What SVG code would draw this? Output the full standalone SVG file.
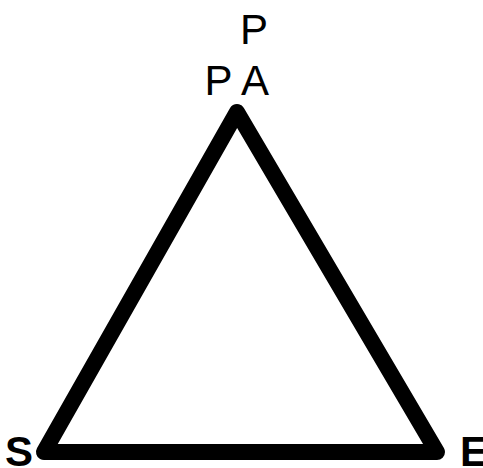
<svg xmlns="http://www.w3.org/2000/svg" width="483" height="468" viewBox="0 0 483 468">
<style>
.lbl{font-family:"Liberation Sans",Arial,sans-serif;font-size:42px;fill:#000}
.b{font-weight:bold}
.edge{fill:none;stroke:#000;stroke-width:16;stroke-linejoin:round;stroke-linecap:round}
</style>
<rect width="483" height="468" fill="#fff"/>
<g id="connectors">
<polygon class="edge" points="237,112 44,452 437,452"/>
</g>
<g id="node-P"><text class="lbl" x="240" y="44">P</text></g>
<g id="node-PA"><text class="lbl" x="204.5" y="95">P A</text></g>
<g id="node-S"><text class="lbl b" x="5" y="466">S</text></g>
<g id="node-E"><text class="lbl b" x="460" y="466">E</text></g>
</svg>
